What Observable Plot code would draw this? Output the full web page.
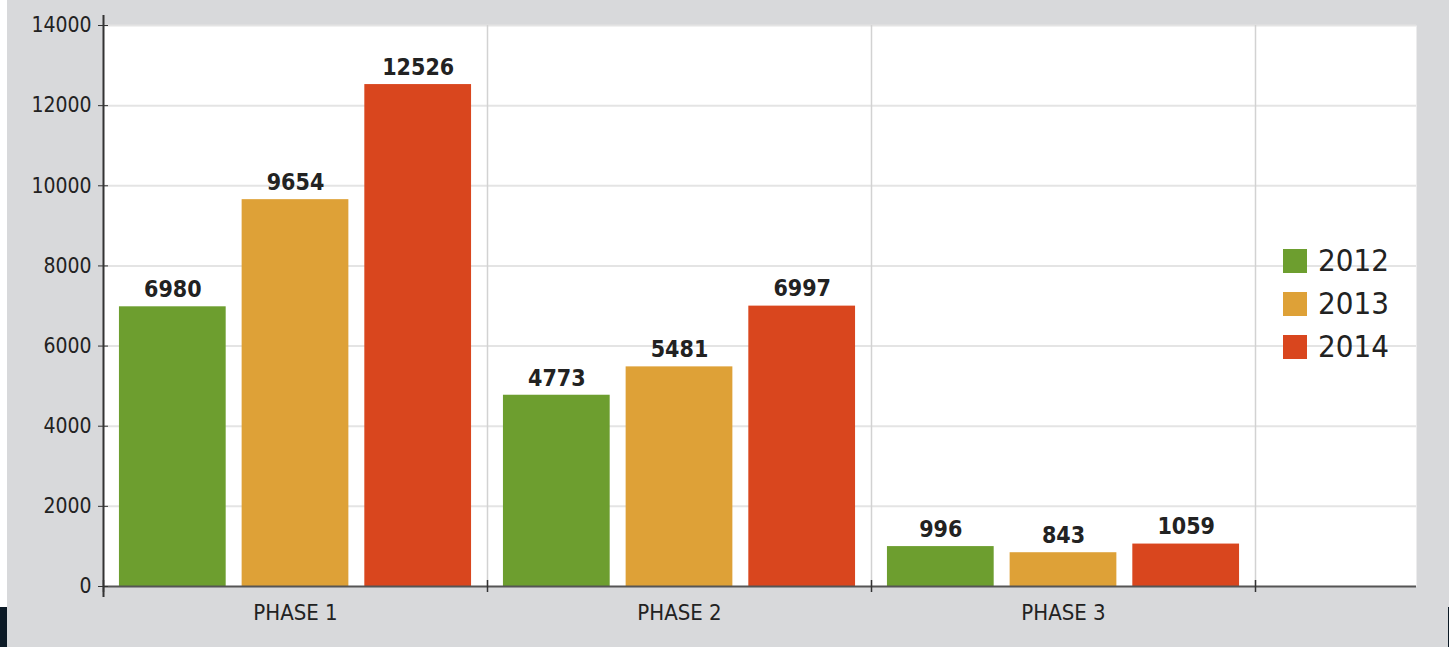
<!DOCTYPE html>
<html>
<head>
<meta charset="utf-8">
<script src="https://cdn.jsdelivr.net/npm/d3@7"></script>
<script src="https://cdn.jsdelivr.net/npm/@observablehq/plot@0.6"></script>
<style>
  html, body { margin: 0; padding: 0; }
  body { width: 1449px; height: 647px; background: #d8d9db; position: relative; overflow: hidden;
         font-family: "DejaVu Sans Condensed", "DejaVu Sans", sans-serif; font-stretch: condensed; }
  #chart { position: absolute; left: 0; top: 0; }
  #edgeTop { position: absolute; left: 0; top: 0; width: 7px; height: 607px; background: #ffffff; }
  #edgeBottom { position: absolute; left: 0; top: 607px; width: 7px; height: 40px; background: #0c1a26; }
  #edgeRight { position: absolute; left: 1448px; top: 607px; width: 1px; height: 40px; background: #0c1a26; }
  #legend { position: absolute; left: 1283px; top: 239px; }
  .row { display: flex; align-items: center; height: 43px; }
  .sw { width: 24px; height: 24px; margin-right: 11px; }
  .lab { font-size: 31px; color: #222; line-height: 1; }
</style>
</head>
<body>
<div id="edgeTop"></div>
<div id="edgeBottom"></div>
<div id="edgeRight"></div>
<div id="chart"></div>
<div id="legend"></div>
<script>
const phases = ["PHASE 1", "PHASE 2", "PHASE 3"];
const years = ["2012", "2013", "2014"];
const values2012 = [6980, 4773, 996];
const values2013 = [9654, 5481, 843];
const values2014 = [12526, 6997, 1059];
const yTicks = [0, 2000, 4000, 6000, 8000, 10000, 12000, 14000];
const colors = ["#6d9e2f", "#dea137", "#d9461e"];

const series = [values2012, values2013, values2014];

const W = 1449, H = 647;
const mLeft = 103, mTop = 25, mBottom = 61, mRight = 33;
const xRange = [103, 1255];
const bandW = (xRange[1] - xRange[0]) / phases.length;
const inner = d3.scaleBand(years, [0, bandW]).paddingInner(0.13).paddingOuter(0.13);

const font = '"DejaVu Sans Condensed", "DejaVu Sans", sans-serif';

const marks = [
  Plot.frame({fill: "white", stroke: null}),
  Plot.ruleY(yTicks.filter(d => d > 0), {y: d => d, stroke: "#e4e4e4", strokeWidth: 2}),
  Plot.ruleX(phases.slice(1), {x: d => d, dx: -bandW / 2, stroke: "#d2d2d2", strokeWidth: 1.5}),
  Plot.ruleX(phases.slice(-1), {x: d => d, dx: bandW / 2, stroke: "#d2d2d2", strokeWidth: 1.5})
];

years.forEach((yr, j) => {
  const rows = phases.map((p, i) => ({phase: p, value: series[j][i], year: yr}));
  const x0 = inner(yr);
  marks.push(
    Plot.barY(rows, {
      x: "phase", y: "value", fill: colors[j],
      insetLeft: x0, insetRight: bandW - x0 - inner.bandwidth()
    }),
    Plot.text(rows, {
      x: "phase", y: "value", text: d => String(d.value),
      dx: x0 + inner.bandwidth() / 2 - bandW / 2, dy: -17,
      fontSize: 23, fontWeight: "bold", fill: "#222", lineAnchor: "middle"
    })
  );
});

marks.push(
  Plot.ruleY([0], {stroke: "#555", strokeWidth: 2}),
  Plot.ruleX(phases, {x: d => d, dx: -bandW / 2, y1: 0, y2: 0, insetTop: -6, insetBottom: -6, stroke: "#333", strokeWidth: 1.5}),
  Plot.ruleX(phases.slice(-1), {x: d => d, dx: bandW / 2, y1: 0, y2: 0, insetTop: -6, insetBottom: -6, stroke: "#333", strokeWidth: 1.5}),
  Plot.ruleX(phases.slice(0, 1), {x: d => d, dx: -bandW / 2, y1: 14000, y2: 0, insetTop: -10, insetBottom: -11, stroke: "#333", strokeWidth: 2}),
  Plot.axisY({ticks: yTicks, tickSize: 10, dx: 5, text: null, stroke: "#333"}),
  Plot.axisY({ticks: yTicks, tickSize: 0, tickPadding: 12, fontSize: 21, fill: "#222", tickFormat: d => String(d)}),
  Plot.axisX({tickSize: 0, tickPadding: 18, fontSize: 22, fill: "#222"})
);

const chart = Plot.plot({
  width: W, height: H,
  marginLeft: mLeft, marginRight: mRight, marginTop: mTop, marginBottom: mBottom,
  style: {background: "transparent", fontFamily: font, fontStretch: "condensed"},
  x: {domain: phases, range: xRange, padding: 0, label: null},
  y: {domain: [0, 14000], label: null},
  marks
});
document.getElementById("chart").appendChild(chart);

const legend = document.getElementById("legend");
years.forEach((yr, j) => {
  const row = document.createElement("div");
  row.className = "row";
  const sw = document.createElement("div");
  sw.className = "sw";
  sw.style.background = colors[j];
  const lab = document.createElement("div");
  lab.className = "lab";
  lab.textContent = yr;
  row.appendChild(sw);
  row.appendChild(lab);
  legend.appendChild(row);
});
</script>
</body>
</html>
